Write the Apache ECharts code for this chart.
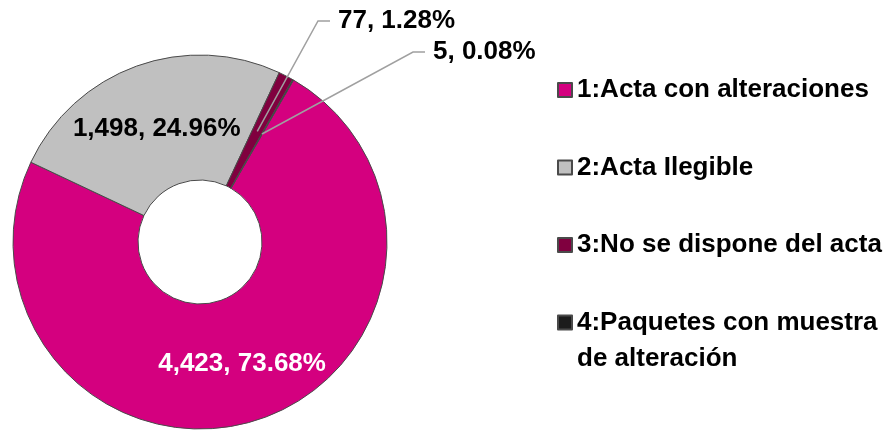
<!DOCTYPE html>
<html>
<head>
<meta charset="utf-8">
<script src="https://cdn.jsdelivr.net/npm/echarts@6/dist/echarts.min.js"></script>
<style>
	html, body { margin: 0; padding: 0; background: #fff; }
	#chart { width: 892px; height: 430px; }
</style>
</head>
<body>
<div id="chart"></div>
<script>
const categories = [
	'1:Acta con alteraciones',
	'2:Acta Ilegible',
	'3:No se dispone del acta',
	'4:Paquetes con muestra\nde alteración'
];
const values = [4423, 1498, 77, 5];
const colors = ['#D4007F', '#C0C0C0', '#80003F', '#1C1C1C'];
// label spots for the two thin slices (left edge, middle)
const calloutPos = {
	2: [338, 21],
	3: [433, 52]
};

const fontFamily = 'Arial, "Liberation Sans", sans-serif';
const formatLabel = (params) => `${params.value.toLocaleString('en-US')}, ${params.percent.toFixed(2)}%`;

const pieData = categories.map((name, index) => {
	return {
		name: name,
		value: values[index],
		itemStyle: { color: colors[index] },
		label: { show: index < 2, color: index === 0 ? '#fff' : '#000' }
	};
});
const calloutData = categories.map((name, index) => {
	return {
		name: name,
		value: values[index],
		label: { show: index >= 2 },
		labelLine: { show: index >= 2 }
	};
});

const myChart = echarts.init(document.getElementById('chart'));
const option = {
	animation: false,
	legend: {
		orient: 'vertical',
		left: 557,
		top: 36,
		height: 390,
		padding: 0,
		icon: 'rect',
		itemWidth: 14,
		itemHeight: 14,
		itemGap: -30.5,
		selectedMode: false,
		textStyle: {
			fontFamily: fontFamily,
			fontSize: 26,
			fontWeight: 'bold',
			color: '#000',
			lineHeight: 36,
			padding: [36, 0, 36, 0]
		},
		// two-line entry: blank line on top so the marker sits on its first line
		formatter: (name) => name.indexOf('\n') >= 0 ? '\n' + name : name,
		data: categories.map((name) => {
			return name.indexOf('\n') >= 0 ? { name: name, textStyle: { padding: 0 } } : { name: name };
		})
	},
	series: [
		{
			type: 'pie',
			center: [200, 242],
			radius: [62, 187],
			startAngle: 60,
			clockwise: true,
			percentPrecision: 2,
			silent: true,
			itemStyle: {
				borderColor: '#4a4a4a',
				borderWidth: 1
			},
			label: {
				position: 'inside',
				formatter: formatLabel,
				fontFamily: fontFamily,
				fontSize: 26,
				fontWeight: 'bold'
			},
			labelLine: { show: false },
			labelLayout: (params) => {
				return params.dataIndex === 0 ? { dx: 4 } : { dy: 7 };
			},
			data: pieData
		},
		{
			type: 'pie',
			z: 5,
			center: [200, 242],
			radius: [0, 124.5],
			startAngle: 60,
			clockwise: true,
			percentPrecision: 2,
			silent: true,
			itemStyle: { color: 'rgba(0,0,0,0)', borderWidth: 0 },
			label: {
				position: 'outside',
				formatter: formatLabel,
				fontFamily: fontFamily,
				fontSize: 26,
				fontWeight: 'bold',
				color: '#000'
			},
			labelLine: {
				length: 20,
				length2: 10,
				lineStyle: { color: '#A0A0A0', width: 1.5 }
			},
			labelLayout: (params) => {
				const pos = calloutPos[params.dataIndex];
				if (!pos || !params.labelLinePoints) return {};
				const start = params.labelLinePoints[0];
				return {
					x: pos[0],
					y: pos[1],
					align: 'left',
					verticalAlign: 'middle',
					labelLinePoints: [start, [pos[0] - 20, pos[1]], [pos[0] - 8, pos[1]]]
				};
			},
			data: calloutData
		}
	]
};
myChart.setOption(option, true);
</script>
</body>
</html>
